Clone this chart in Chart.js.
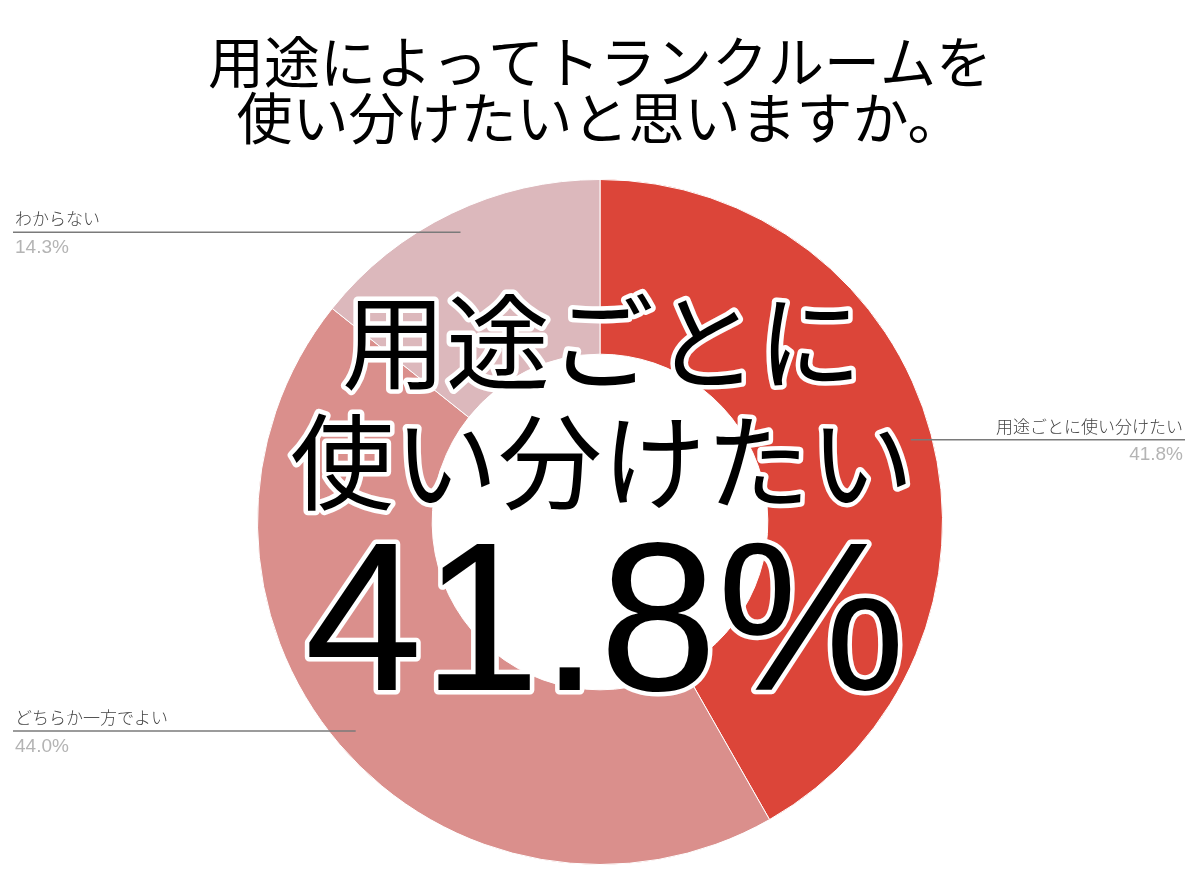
<!DOCTYPE html>
<html lang="ja">
<head>
<meta charset="utf-8">
<title>用途によってトランクルームを使い分けたいと思いますか。</title>
<script src="https://cdn.jsdelivr.net/npm/chart.js@4/dist/chart.umd.min.js"></script>
<style>
    html, body { margin: 0; padding: 0; background: #fff; }
    #wrap { width: 1200px; height: 894px; }
</style>
</head>
<body>
<div id="wrap"><canvas id="chart" width="1200" height="894"></canvas></div>
<script>
// data
const categories = ['用途ごとに使い分けたい', 'どちらか一方でよい', 'わからない'];
const shares = [41.8, 44.0, 14.3];
const sliceColors = ['#dc4539', '#da8f8c', '#dcb8bc'];
const titleLines = ['用途によってトランクルームを', '使い分けたいと思いますか。'];
const headline = ['用途ごとに', '使い分けたい'];

const JP = '"Noto Sans CJK JP", "Noto Sans", sans-serif';

// leader lines + labels beside the ring
const calloutPlugin = {
    id: 'callouts',
    afterDatasetsDraw(chart) {
        const ctx = chart.ctx;
        const arcs = chart.getDatasetMeta(0).data;
        ctx.save();
        arcs.forEach(function (arc, i) {
            const mid = (arc.startAngle + arc.endAngle) / 2;
            const r = arc.innerRadius + (arc.outerRadius - arc.innerRadius) * 0.88;
            const px = arc.x + Math.cos(mid) * r;
            const py = arc.y + Math.sin(mid) * r;
            const right = px > arc.x;
            const edge = right ? 1185 : 13;

            ctx.strokeStyle = '#7a7a7a';
            ctx.lineWidth = 1.5;
            ctx.beginPath();
            ctx.moveTo(px, py);
            ctx.lineTo(edge, py);
            ctx.stroke();

            ctx.textAlign = right ? 'right' : 'left';
            const tx = right ? edge - 2 : edge + 2;
            ctx.fillStyle = '#444';
            ctx.font = '300 17px ' + JP;
            ctx.textBaseline = 'alphabetic';
            ctx.fillText(categories[i], tx, py - 7);
            ctx.fillStyle = '#b4b4b4';
            ctx.font = '19px "Liberation Sans Narrow", "Liberation Sans", Arial, sans-serif';
            ctx.textBaseline = 'top';
            ctx.fillText(shares[i].toFixed(1) + '%', tx, py + 6);
        });
        ctx.restore();
    },
    afterDraw(chart) {
        const ctx = chart.ctx;
        ctx.save();
        ctx.textAlign = 'center';
        ctx.textBaseline = 'middle';

        // title
        ctx.fillStyle = '#000';
        ctx.font = '56px ' + JP;
        ctx.fillText(titleLines[0], 600, 62);
        ctx.fillText(titleLines[1], 600, 118);

        // big outlined headline over the ring
        ctx.lineJoin = 'round';
        ctx.strokeStyle = '#fff';
        ctx.lineWidth = 9;
        ctx.font = '400 104px ' + JP;
        [[headline[0], 342], [headline[1], 462]].forEach(function (row) {
            ctx.strokeText(row[0], 602, row[1]);
            ctx.fillStyle = '#000';
            ctx.fillText(row[0], 602, row[1]);
        });

        const pct = shares[0].toFixed(1) + '%';
        ctx.font = '212px "Liberation Sans", Arial, sans-serif';
        ctx.textBaseline = 'alphabetic';
        ctx.strokeText(pct, 605, 690);
        ctx.fillText(pct, 605, 690);
        ctx.restore();
    }
};

new Chart(document.getElementById('chart'), {
    type: 'doughnut',
    data: {
        labels: categories,
        datasets: [{
            data: shares,
            backgroundColor: sliceColors,
            borderColor: '#ffffff',
            borderWidth: 1
        }]
    },
    options: {
        responsive: false,
        animation: false,
        cutout: '49%',
        layout: { padding: { top: 179, bottom: 29, left: 257, right: 257 } },
        plugins: {
            legend: { display: false },
            tooltip: { enabled: false }
        }
    },
    plugins: [calloutPlugin]
});
</script>
</body>
</html>
